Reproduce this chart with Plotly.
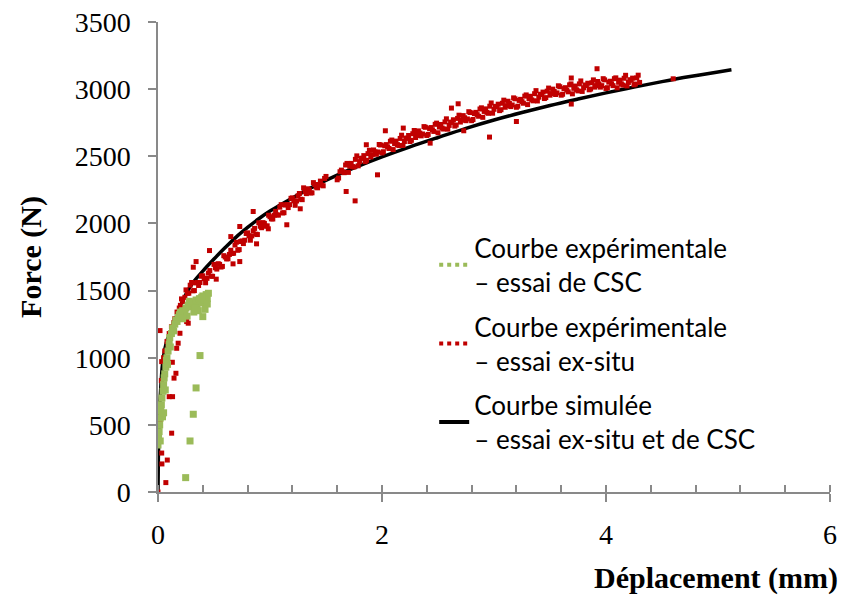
import plotly.graph_objects as go

# ---------------- data ----------------
# Simulated curve (black)
sim_x = [0, 0.003, 0.008, 0.015, 0.025, 0.04, 0.06, 0.085, 0.12, 0.17, 0.23, 0.3,
         0.4, 0.5, 0.6, 0.7, 0.8, 0.9, 1.0, 1.2, 1.4, 1.6, 1.8, 2.0, 2.25, 2.5, 2.75, 3.0,
         3.25, 3.5, 3.75, 4.0, 4.25, 4.5, 4.75, 5.0, 5.12]
sim_y = [0, 250, 450, 620, 780, 950, 1060, 1140, 1200, 1320, 1440, 1545,
         1645, 1735, 1820, 1900, 1970, 2035, 2092, 2190, 2280, 2360, 2430, 2495, 2570, 2640, 2708, 2770,
         2826, 2878, 2926, 2972, 3015, 3056, 3094, 3128, 3144]

# Experimental, ex-situ test (red) - start of the test and scattered points
exsitu_x = [0, 0.07, 0.035, 0.083, 0.033, 0.122, 0.1, 0.13, 0.024, 0.143, 0.16, 0.128,
            0.033, 0.018, 0.18, 0.167, 0.196, 0.27, 0.01, 0.02, 0.03, 0.05, 0.06, 0.08,
            0.1, 0.12, 0.15, 0.17, 0.2, 0.22, 0.24, 0.09, 0.14, 0.19, 0.21, 0.286, 0.256,
            2.03, 1.76, 1.96, 2.96, 3.20, 2.68, 2.62, 2.43, 2.19, 1.86, 2.73,
            3.92, 3.69, 4.60, 3.69, 1.68, 1.15, 0.88, 0.46, 0.34, 0.315, 0.67,
            0.73, 0.52, 0.985, 1.27, 0.73, 0.65, 0.85]
exsitu_y = [0, 70, 209, 238, 290, 438, 710, 710, 599, 848, 884, 966,
            971, 1202, 1108, 1070, 1182, 1257, 380, 520, 830, 1000, 1050, 1120,
            1180, 1230, 1290, 1340, 1390, 1420, 1450, 1080, 1260, 1370, 1438, 1408, 1269,
            2690, 2168, 2362, 2643, 2759, 2891, 2859, 2598, 2710, 2586, 2690,
            3152, 2889, 3077, 3083, 2238, 1990, 1848, 1798, 1716, 1674, 1699,
            1716, 1585, 1960, 2109, 1977, 1902, 2089]

# Experimental, ex-situ test (red) - main band, first pass of readings
band1_x = [0.250, 0.275, 0.300, 0.325, 0.350, 0.375, 0.400, 0.425, 0.450, 0.475,
           0.500, 0.525, 0.550, 0.575, 0.600, 0.625, 0.650, 0.675, 0.700, 0.725,
           0.750, 0.775, 0.800, 0.825, 0.850, 0.875, 0.900, 0.925, 0.950, 0.975,
           1.000, 1.025, 1.050, 1.075, 1.100, 1.125, 1.150, 1.175, 1.200, 1.225,
           1.250, 1.275, 1.300, 1.325, 1.350, 1.375, 1.400, 1.425, 1.450, 1.475,
           1.500, 1.600, 1.625, 1.650, 1.675, 1.700, 1.725, 1.750, 1.775, 1.800,
           1.825, 1.850, 1.875, 1.900, 1.925, 1.950, 1.975, 2.000, 2.025, 2.050,
           2.075, 2.100, 2.125, 2.150, 2.175, 2.200, 2.225, 2.250, 2.275, 2.300,
           2.325, 2.350, 2.375, 2.400, 2.425, 2.450, 2.475, 2.500, 2.525, 2.550,
           2.575, 2.600, 2.625, 2.650, 2.675, 2.700, 2.725, 2.750, 2.775, 2.800,
           2.825, 2.850, 2.875, 2.900, 2.925, 2.950, 2.975, 3.000, 3.025, 3.050,
           3.075, 3.100, 3.125, 3.150, 3.175, 3.200, 3.225, 3.250, 3.275, 3.300,
           3.325, 3.350, 3.375, 3.400, 3.425, 3.450, 3.475, 3.500, 3.525, 3.550,
           3.575, 3.600, 3.625, 3.650, 3.675, 3.700, 3.725, 3.750, 3.775, 3.800,
           3.825, 3.850, 3.875, 3.900, 3.925, 3.950, 3.975, 4.000, 4.025, 4.050,
           4.075, 4.100, 4.125, 4.150, 4.175, 4.200, 4.225, 4.250, 4.275, 4.300]
band1_y = [1505, 1480, 1560, 1500, 1560, 1560, 1610, 1558, 1630, 1607,
           1695, 1660, 1695, 1680, 1750, 1737, 1800, 1778, 1860, 1805,
           1870, 1875, 1930, 1875, 1945, 1920, 2005, 1968, 2000, 1982,
           2050, 2033, 2090, 2062, 2140, 2080, 2140, 2140, 2190, 2135,
           2205, 2180, 2265, 2222, 2250, 2228, 2290, 2265, 2315, 2280,
           2350, 2325, 2385, 2385, 2435, 2380, 2447, 2420, 2503, 2460,
           2485, 2460, 2520, 2495, 2547, 2515, 2588, 2525, 2578, 2570,
           2612, 2550, 2613, 2580, 2657, 2610, 2635, 2610, 2668, 2640,
           2689, 2652, 2721, 2655, 2706, 2697, 2738, 2675, 2737, 2703,
           2779, 2730, 2753, 2725, 2782, 2755, 2803, 2765, 2832, 2765,
           2818, 2810, 2852, 2790, 2853, 2820, 2897, 2850, 2870, 2840,
           2895, 2865, 2910, 2870, 2935, 2865, 2916, 2907, 2948, 2885,
           2947, 2913, 2989, 2940, 2960, 2930, 2985, 2955, 3000, 2960,
           3025, 2955, 3004, 2993, 3032, 2965, 3023, 2987, 3061, 3010,
           3027, 2995, 3048, 3015, 3057, 3015, 3078, 3005, 3052, 3040,
           3078, 3010, 3067, 3030, 3103, 3050, 3066, 3032, 3084, 3050]

# Experimental, ex-situ test (red) - main band, second pass of readings
band2_x = [0.2625, 0.2875, 0.3125, 0.3375, 0.3625, 0.3875, 0.4125, 0.4375, 0.4625, 0.4875,
           0.5125, 0.5375, 0.5625, 0.5875, 0.6125, 0.6375, 0.6625, 0.6875, 0.7125, 0.7375,
           0.7625, 0.7875, 0.8125, 0.8375, 0.8625, 0.8875, 0.9125, 0.9375, 0.9625, 0.9875,
           1.0125, 1.0375, 1.0625, 1.0875, 1.1125, 1.1375, 1.1625, 1.1875, 1.2125, 1.2375,
           1.2625, 1.2875, 1.3125, 1.3375, 1.3625, 1.3875, 1.4125, 1.4375, 1.4625, 1.4875,
           1.6125, 1.6375, 1.6625, 1.6875, 1.7125, 1.7375, 1.7625, 1.7875, 1.8125, 1.8375,
           1.8625, 1.8875, 1.9125, 1.9375, 1.9625, 1.9875, 2.0125, 2.0375, 2.0625, 2.0875,
           2.1125, 2.1375, 2.1625, 2.1875, 2.2125, 2.2375, 2.2625, 2.2875, 2.3125, 2.3375,
           2.3625, 2.3875, 2.4125, 2.4375, 2.4625, 2.4875, 2.5125, 2.5375, 2.5625, 2.5875,
           2.6125, 2.6375, 2.6625, 2.6875, 2.7125, 2.7375, 2.7625, 2.7875, 2.8125, 2.8375,
           2.8625, 2.8875, 2.9125, 2.9375, 2.9625, 2.9875, 3.0125, 3.0375, 3.0625, 3.0875,
           3.1125, 3.1375, 3.1625, 3.1875, 3.2125, 3.2375, 3.2625, 3.2875, 3.3125, 3.3375,
           3.3625, 3.3875, 3.4125, 3.4375, 3.4625, 3.4875, 3.5125, 3.5375, 3.5625, 3.5875,
           3.6125, 3.6375, 3.6625, 3.6875, 3.7125, 3.7375, 3.7625, 3.7875, 3.8125, 3.8375,
           3.8625, 3.8875, 3.9125, 3.9375, 3.9625, 3.9875, 4.0125, 4.0375, 4.0625, 4.0875,
           4.1125, 4.1375, 4.1625, 4.1875, 4.2125, 4.2375, 4.2625, 4.2875]
band2_y = [1480, 1540, 1498, 1557, 1538, 1607, 1589, 1591, 1649, 1606,
           1670, 1700, 1675, 1760, 1736, 1769, 1776, 1839, 1800, 1865,
           1850, 1925, 1908, 1907, 1963, 1917, 1979, 2006, 1979, 2061,
           2034, 2061, 2064, 2121, 2078, 2137, 2118, 2187, 2168, 2167,
           2223, 2177, 2236, 2258, 2227, 2304, 2270, 2290, 2285, 2335,
           2338, 2397, 2378, 2447, 2426, 2423, 2477, 2429, 2485, 2505,
           2470, 2545, 2511, 2533, 2532, 2584, 2534, 2587, 2558, 2621,
           2594, 2587, 2633, 2581, 2635, 2655, 2619, 2692, 2655, 2673,
           2666, 2716, 2663, 2714, 2685, 2747, 2718, 2710, 2756, 2702,
           2754, 2772, 2733, 2806, 2769, 2787, 2778, 2826, 2774, 2827,
           2798, 2861, 2834, 2827, 2873, 2821, 2872, 2888, 2847, 2918,
           2877, 2893, 2882, 2928, 2873, 2924, 2895, 2957, 2928, 2920,
           2966, 2912, 2962, 2978, 2937, 3008, 2967, 2983, 2972, 3018,
           2962, 3011, 2980, 3039, 3006, 2995, 3039, 2983, 3031, 3044,
           3001, 3069, 3026, 3039, 3026, 3069, 3011, 3059, 3026, 3084,
           3051, 3039, 3081, 3024, 3070, 3082, 3038, 3104]

# Experimental, CSC test (green)
csc_x = [0.0, 0.005, 0.01, 0.015, 0.02, 0.02, 0.025, 0.03, 0.035, 0.04, 0.045, 0.05,
         0.05, 0.055, 0.06, 0.065, 0.07, 0.075, 0.08, 0.085, 0.09, 0.1, 0.105, 0.11,
         0.12, 0.13, 0.14, 0.15, 0.16, 0.17, 0.18, 0.19, 0.2, 0.22, 0.24, 0.25, 0.27,
         0.29, 0.3, 0.32, 0.34, 0.35, 0.37, 0.38, 0.4, 0.41, 0.43, 0.44, 0.45, 0.4,
         0.42, 0.36, 0.26, 0.22, 0.32, 0.28, 0.33, 0.39, 0.44,
         0.375, 0.34, 0.315, 0.286, 0.247]
csc_y = [350, 400, 450, 500, 380, 550, 600, 650, 700, 560, 750, 590,
         800, 850, 880, 760, 930, 980, 1000, 950, 1050, 1100, 1150, 1080,
         1180, 1220, 1200, 1250, 1280, 1270, 1300, 1320, 1340, 1350, 1330, 1370, 1390,
         1380, 1410, 1400, 1430, 1380, 1440, 1410, 1460, 1430, 1470, 1440, 1480, 1306,
         1360, 1350, 1310, 1290, 1340, 1420, 1370, 1450, 1400,
         1016, 775, 579, 380, 107]

legend_names = [
    "Courbe expérimentale<br>– essai de CSC",
    "Courbe expérimentale<br>– essai ex-situ",
    "Courbe simulée<br>– essai ex-situ et de CSC",
]
x_ticks = [0, 2, 4, 6]
y_ticks = [0, 500, 1000, 1500, 2000, 2500, 3000, 3500]

GREEN = "#9BBB59"
RED = "#C00000"
AXIS = "#898989"

red_x = exsitu_x + band1_x + band2_x
red_y = exsitu_y + band1_y + band2_y

fig = go.Figure()

# data marks (not shown in legend)
fig.add_trace(go.Scatter(x=sim_x, y=sim_y, mode="lines", showlegend=False,
                         line=dict(color="black", width=3.5, shape="spline")))
fig.add_trace(go.Scatter(x=red_x, y=red_y, mode="markers", showlegend=False,
                         marker=dict(symbol="square", size=5, color=RED)))
fig.add_trace(go.Scatter(x=csc_x, y=csc_y, mode="markers", showlegend=False,
                         marker=dict(symbol="square", size=7, color=GREEN)))

# legend entries
fig.add_trace(go.Scatter(x=[None], y=[None], mode="lines", name=legend_names[0],
                         legendgroup="a",
                         line=dict(color=GREEN, width=4, dash="dot")))
fig.add_trace(go.Scatter(x=[None], y=[None], mode="lines", name=legend_names[1],
                         legendgroup="b",
                         line=dict(color=RED, width=4, dash="dot")))
fig.add_trace(go.Scatter(x=[None], y=[None], mode="lines", name=legend_names[2],
                         legendgroup="c",
                         line=dict(color="black", width=4)))

# the page body adds an 8 px offset, so the figure is sized to fit the window
fig.update_layout(
    width=838, height=588,
    margin=dict(l=150, r=16, t=14, b=104),
    paper_bgcolor="white", plot_bgcolor="white",
    font=dict(family="Liberation Serif", color="black"),
    showlegend=True,
    legend=dict(x=0.411, y=0.569, xanchor="left", yanchor="top",
                bgcolor="rgba(0,0,0,0)", tracegroupgap=8,
                font=dict(family="Lato", size=26, color="black")),
    annotations=[dict(text="<b>Déplacement (mm)</b>", xref="paper", yref="paper",
                      x=1, y=0, xanchor="right", yanchor="middle",
                      xshift=10, yshift=-86, showarrow=False,
                      font=dict(family="Liberation Serif", size=30, color="black"))],
)

fig.update_xaxes(range=[0, 6], tickvals=x_ticks, ticktext=[str(v) for v in x_ticks],
                 showgrid=False, zeroline=False, automargin=False,
                 showline=True, linecolor=AXIS, linewidth=1.5,
                 ticks="outside", ticklen=8, tickwidth=1.5, tickcolor=AXIS,
                 minor=dict(ticks="inside", dtick=0.4, tick0=0, ticklen=7,
                            tickwidth=1.5, tickcolor=AXIS, showgrid=False),
                 ticklabelstandoff=9, ticklabeloverflow="allow",
                 tickfont=dict(family="Liberation Serif", size=28, color="black"))
fig.update_yaxes(range=[0, 3500], tickvals=y_ticks, ticktext=[str(v) for v in y_ticks],
                 showgrid=False, zeroline=False, automargin=False,
                 showline=True, linecolor=AXIS, linewidth=1.5,
                 ticks="outside", ticklen=8, tickwidth=1.5, tickcolor=AXIS,
                 ticklabelstandoff=12, ticklabeloverflow="allow",
                 tickfont=dict(family="Liberation Serif", size=28, color="black"),
                 title=dict(text="<b>Force (N)</b>", standoff=24,
                            font=dict(family="Liberation Serif", size=30, color="black")))

fig.write_html("out.html")
